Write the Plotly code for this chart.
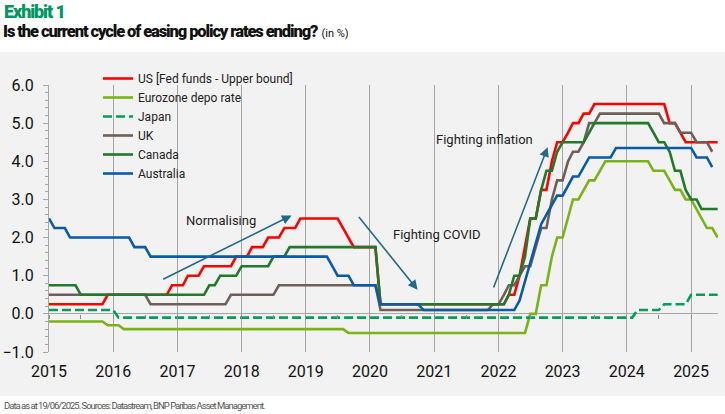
import pandas as pd
import plotly.graph_objects as go

# Monthly policy rates (%), Jan 2015 onwards
MONTHS = pd.date_range("2015-01-01", "2025-06-01", freq="MS")

US = [
    0.25, 0.25, 0.25, 0.25, 0.25, 0.25, 0.25, 0.25, 0.25, 0.25, 0.25, 0.50,
    0.50, 0.50, 0.50, 0.50, 0.50, 0.50, 0.50, 0.50, 0.50, 0.50, 0.50, 0.75,
    0.75, 0.75, 1.00, 1.00, 1.00, 1.25, 1.25, 1.25, 1.25, 1.25, 1.25, 1.50,
    1.50, 1.50, 1.75, 1.75, 1.75, 2.00, 2.00, 2.00, 2.25, 2.25, 2.25, 2.50,
    2.50, 2.50, 2.50, 2.50, 2.50, 2.50, 2.50, 2.25, 2.00, 1.75, 1.75, 1.75,
    1.75, 1.75, 0.25, 0.25, 0.25, 0.25, 0.25, 0.25, 0.25, 0.25, 0.25, 0.25,
    0.25, 0.25, 0.25, 0.25, 0.25, 0.25, 0.25, 0.25, 0.25, 0.25, 0.25, 0.25,
    0.25, 0.25, 0.50, 0.50, 1.00, 1.75, 2.50, 2.50, 3.25, 3.25, 4.00, 4.50,
    4.50, 4.75, 5.00, 5.00, 5.25, 5.25, 5.50, 5.50, 5.50, 5.50, 5.50, 5.50,
    5.50, 5.50, 5.50, 5.50, 5.50, 5.50, 5.50, 5.50, 5.00, 5.00, 4.75, 4.50,
    4.50, 4.50, 4.50, 4.50, 4.50, 4.50,
]
EUROZONE = [
    -0.20, -0.20, -0.20, -0.20, -0.20, -0.20, -0.20, -0.20, -0.20, -0.20, -0.20, -0.30,
    -0.30, -0.30, -0.40, -0.40, -0.40, -0.40, -0.40, -0.40, -0.40, -0.40, -0.40, -0.40,
    -0.40, -0.40, -0.40, -0.40, -0.40, -0.40, -0.40, -0.40, -0.40, -0.40, -0.40, -0.40,
    -0.40, -0.40, -0.40, -0.40, -0.40, -0.40, -0.40, -0.40, -0.40, -0.40, -0.40, -0.40,
    -0.40, -0.40, -0.40, -0.40, -0.40, -0.40, -0.40, -0.40, -0.50, -0.50, -0.50, -0.50,
    -0.50, -0.50, -0.50, -0.50, -0.50, -0.50, -0.50, -0.50, -0.50, -0.50, -0.50, -0.50,
    -0.50, -0.50, -0.50, -0.50, -0.50, -0.50, -0.50, -0.50, -0.50, -0.50, -0.50, -0.50,
    -0.50, -0.50, -0.50, -0.50, -0.50, -0.50, 0.00, 0.00, 0.75, 0.75, 1.50, 2.00,
    2.00, 2.50, 3.00, 3.00, 3.25, 3.50, 3.50, 3.75, 4.00, 4.00, 4.00, 4.00,
    4.00, 4.00, 4.00, 4.00, 4.00, 3.75, 3.75, 3.75, 3.50, 3.25, 3.25, 3.00,
    3.00, 2.75, 2.50, 2.25, 2.25, 2.00,
]
JAPAN = [
    0.10, 0.10, 0.10, 0.10, 0.10, 0.10, 0.10, 0.10, 0.10, 0.10, 0.10, 0.10,
    0.10, -0.10, -0.10, -0.10, -0.10, -0.10, -0.10, -0.10, -0.10, -0.10, -0.10, -0.10,
    -0.10, -0.10, -0.10, -0.10, -0.10, -0.10, -0.10, -0.10, -0.10, -0.10, -0.10, -0.10,
    -0.10, -0.10, -0.10, -0.10, -0.10, -0.10, -0.10, -0.10, -0.10, -0.10, -0.10, -0.10,
    -0.10, -0.10, -0.10, -0.10, -0.10, -0.10, -0.10, -0.10, -0.10, -0.10, -0.10, -0.10,
    -0.10, -0.10, -0.10, -0.10, -0.10, -0.10, -0.10, -0.10, -0.10, -0.10, -0.10, -0.10,
    -0.10, -0.10, -0.10, -0.10, -0.10, -0.10, -0.10, -0.10, -0.10, -0.10, -0.10, -0.10,
    -0.10, -0.10, -0.10, -0.10, -0.10, -0.10, -0.10, -0.10, -0.10, -0.10, -0.10, -0.10,
    -0.10, -0.10, -0.10, -0.10, -0.10, -0.10, -0.10, -0.10, -0.10, -0.10, -0.10, -0.10,
    -0.10, -0.10, 0.10, 0.10, 0.10, 0.10, 0.10, 0.25, 0.25, 0.25, 0.25, 0.25,
    0.50, 0.50, 0.50, 0.50, 0.50, 0.50,
]
UK = [
    0.50, 0.50, 0.50, 0.50, 0.50, 0.50, 0.50, 0.50, 0.50, 0.50, 0.50, 0.50,
    0.50, 0.50, 0.50, 0.50, 0.50, 0.50, 0.50, 0.25, 0.25, 0.25, 0.25, 0.25,
    0.25, 0.25, 0.25, 0.25, 0.25, 0.25, 0.25, 0.25, 0.25, 0.25, 0.50, 0.50,
    0.50, 0.50, 0.50, 0.50, 0.50, 0.50, 0.50, 0.75, 0.75, 0.75, 0.75, 0.75,
    0.75, 0.75, 0.75, 0.75, 0.75, 0.75, 0.75, 0.75, 0.75, 0.75, 0.75, 0.75,
    0.75, 0.75, 0.10, 0.10, 0.10, 0.10, 0.10, 0.10, 0.10, 0.10, 0.10, 0.10,
    0.10, 0.10, 0.10, 0.10, 0.10, 0.10, 0.10, 0.10, 0.10, 0.10, 0.10, 0.25,
    0.25, 0.50, 0.75, 0.75, 1.00, 1.25, 1.25, 1.75, 2.25, 2.25, 3.00, 3.50,
    3.50, 4.00, 4.25, 4.25, 4.50, 5.00, 5.00, 5.25, 5.25, 5.25, 5.25, 5.25,
    5.25, 5.25, 5.25, 5.25, 5.25, 5.25, 5.25, 5.00, 5.00, 5.00, 4.75, 4.75,
    4.75, 4.50, 4.50, 4.50, 4.25,
]
CANADA = [
    0.75, 0.75, 0.75, 0.75, 0.75, 0.75, 0.50, 0.50, 0.50, 0.50, 0.50, 0.50,
    0.50, 0.50, 0.50, 0.50, 0.50, 0.50, 0.50, 0.50, 0.50, 0.50, 0.50, 0.50,
    0.50, 0.50, 0.50, 0.50, 0.50, 0.50, 0.75, 0.75, 1.00, 1.00, 1.00, 1.00,
    1.25, 1.25, 1.25, 1.25, 1.25, 1.25, 1.50, 1.50, 1.50, 1.75, 1.75, 1.75,
    1.75, 1.75, 1.75, 1.75, 1.75, 1.75, 1.75, 1.75, 1.75, 1.75, 1.75, 1.75,
    1.75, 1.75, 0.25, 0.25, 0.25, 0.25, 0.25, 0.25, 0.25, 0.25, 0.25, 0.25,
    0.25, 0.25, 0.25, 0.25, 0.25, 0.25, 0.25, 0.25, 0.25, 0.25, 0.25, 0.25,
    0.25, 0.25, 0.50, 1.00, 1.00, 1.50, 2.50, 2.50, 3.25, 3.75, 3.75, 4.25,
    4.50, 4.50, 4.50, 4.50, 4.50, 4.75, 5.00, 5.00, 5.00, 5.00, 5.00, 5.00,
    5.00, 5.00, 5.00, 5.00, 5.00, 4.75, 4.50, 4.50, 4.25, 3.75, 3.75, 3.25,
    3.00, 3.00, 2.75, 2.75, 2.75, 2.75,
]
AUSTRALIA = [
    2.50, 2.25, 2.25, 2.25, 2.00, 2.00, 2.00, 2.00, 2.00, 2.00, 2.00, 2.00,
    2.00, 2.00, 2.00, 2.00, 1.75, 1.75, 1.75, 1.50, 1.50, 1.50, 1.50, 1.50,
    1.50, 1.50, 1.50, 1.50, 1.50, 1.50, 1.50, 1.50, 1.50, 1.50, 1.50, 1.50,
    1.50, 1.50, 1.50, 1.50, 1.50, 1.50, 1.50, 1.50, 1.50, 1.50, 1.50, 1.50,
    1.50, 1.50, 1.50, 1.50, 1.50, 1.25, 1.00, 1.00, 1.00, 0.75, 0.75, 0.75,
    0.75, 0.75, 0.25, 0.25, 0.25, 0.25, 0.25, 0.25, 0.25, 0.25, 0.10, 0.10,
    0.10, 0.10, 0.10, 0.10, 0.10, 0.10, 0.10, 0.10, 0.10, 0.10, 0.10, 0.10,
    0.10, 0.10, 0.10, 0.10, 0.35, 0.85, 1.35, 1.85, 2.35, 2.60, 2.85, 3.10,
    3.10, 3.35, 3.60, 3.60, 3.85, 4.10, 4.10, 4.10, 4.10, 4.10, 4.35, 4.35,
    4.35, 4.35, 4.35, 4.35, 4.35, 4.35, 4.35, 4.35, 4.35, 4.35, 4.35, 4.35,
    4.35, 4.10, 4.10, 4.10, 3.85,
]

SERIES = [
    ("US [Fed funds - Upper bound]", US, "#FF0000", "solid"),
    ("Eurozone depo rate", EUROZONE, "#7AB317", "solid"),
    ("Japan", JAPAN, "#00A05A", "9px,4px"),
    ("UK", UK, "#6E5F58", "solid"),
    ("Canada", CANADA, "#1F7A2A", "solid"),
    ("Australia", AUSTRALIA, "#0A5AA8", "solid"),
]

# Arrows: (tail date, tail value, head date, head value)
ARROWS = [
    ("2016-10-03", 0.89, "2018-10-12", 2.58),
    ("2019-10-23", 2.58, "2020-09-28", 0.63),
    ("2021-12-01", 0.65, "2022-10-08", 4.37),
]
LABELS = [
    ("Normalising", "2017-09-05", 2.44),
    ("Fighting COVID", "2021-01-19", 2.08),
    ("Fighting inflation", "2021-10-16", 4.58),
]

TXT = "#222222"
GRID = "#A6A6A6"
ARROW = "#22698A"

fig = go.Figure()
for name, vals, color, dash in SERIES:
    fig.add_trace(go.Scatter(
        x=MONTHS[:len(vals)], y=vals, name=name, mode="lines",
        line=dict(color=color, width=2.6, dash=dash),
    ))
# placeholder trace so the half-year tick axis on the zero line gets drawn
fig.add_trace(go.Scatter(x=MONTHS[:1], y=[None], xaxis="x2", mode="lines",
                         showlegend=False, hoverinfo="skip"))

for x0, y0, x1, y1 in ARROWS:
    fig.add_annotation(
        x=x1, y=y1, ax=x0, ay=y0, xref="x", yref="y", axref="x", ayref="y",
        text="", showarrow=True, arrowhead=2, arrowsize=1.2, arrowwidth=1.6,
        arrowcolor=ARROW,
    )
for text, x, y in LABELS:
    fig.add_annotation(
        x=x, y=y, xref="x", yref="y", text=text, showarrow=False,
        font=dict(family="Roboto", size=13, color=TXT),
    )

# Plot area is 669 x 267 px; paper coords derived from pixel layout
W, H, L, B = 669, 267, 49, 62
fig.add_shape(type="rect", xref="paper", yref="paper", layer="below",
              x0=-L / W, x1=(725 - L) / W, y0=(352 - 396) / H, y1=(352 - 52) / H,
              fillcolor="#F2F2F2", line_width=0)

fig.add_annotation(xref="paper", yref="paper", x=-47 / W, y=(352 - 11) / H,
                   xanchor="left", yanchor="middle", showarrow=False,
                   text="<span style='letter-spacing:-1.1px'>Exhibit 1</span>",
                   font=dict(family="Roboto", size=18, color="#00965E", weight=900))
fig.add_annotation(xref="paper", yref="paper", x=-48 / W, y=(352 - 32) / H,
                   xanchor="left", yanchor="middle", showarrow=False,
                   text="<span style='letter-spacing:-1.1px'>Is the current cycle of easing policy rates ending?</span>"
                        " <span style='font-size:11px;font-weight:400'>(in %)</span>",
                   font=dict(family="Roboto", size=16.5, color="#111111", weight=900))
fig.add_annotation(xref="paper", yref="paper", x=-47 / W, y=(352 - 405) / H,
                   xanchor="left", yanchor="middle", showarrow=False,
                   text="<span style='letter-spacing:-1px'>Data as at 19/06/2025. Sources: Datastream, BNP Paribas Asset Management.</span>",
                   font=dict(family="Roboto", size=9.5, color="#555555"))

fig.update_layout(
    width=725, height=414,
    margin=dict(l=L, r=725 - L - W, t=85, b=B),
    paper_bgcolor="white", plot_bgcolor="rgba(0,0,0,0)",
    font=dict(family="Roboto", color=TXT),
    showlegend=True,
    legend=dict(x=(98 - L) / W, y=(352 - 64) / H, xanchor="left", yanchor="top",
                bgcolor="rgba(0,0,0,0)", font=dict(family="Roboto", size=12, color=TXT),
                itemwidth=30, tracegroupgap=0),
    xaxis=dict(
        type="date", range=["2015-01-01", "2025-06-03"], automargin=False,
        tickmode="linear", tick0="2015-01-01", dtick="M12", tickformat="%Y",
        showgrid=True, gridcolor=GRID, gridwidth=1, showline=False, zeroline=False,
        ticks="", ticklabelstandoff=8,
        tickfont=dict(family="Roboto", size=16, color="#111111"),
    ),
    xaxis2=dict(
        type="date", range=["2015-01-01", "2025-06-03"], overlaying="x",
        anchor="free", position=1 / 7, side="bottom", automargin=False,
        tickmode="linear", tick0="2015-07-01", dtick="M6",
        ticks="outside", ticklen=4, tickwidth=1, tickcolor="#8C8C8C",
        showticklabels=False, showgrid=False, showline=False, zeroline=False,
    ),
    yaxis=dict(
        range=[-1, 6], tickmode="linear", tick0=-1, dtick=1, tickformat=".1f",
        automargin=False,
        showgrid=False, showline=True, linecolor=GRID, linewidth=1,
        zeroline=True, zerolinecolor=GRID, zerolinewidth=1,
        ticks="outside", ticklen=5, tickcolor=GRID, ticklabelstandoff=6,
        minor=dict(dtick=0.2, ticks="outside", ticklen=3, tickcolor=GRID),
        tickfont=dict(family="Roboto", size=16, color="#111111"),
    ),
)

fig.write_html("out.html", config={"displayModeBar": False},
               post_script="document.body.style.margin='0';")
